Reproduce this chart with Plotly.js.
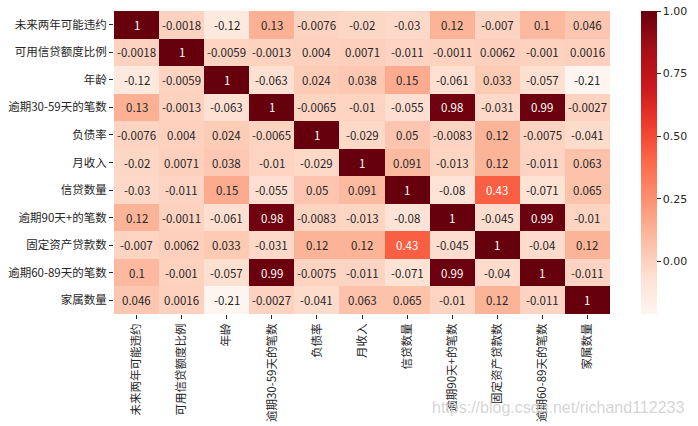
<!DOCTYPE html>
<html>
<head>
<meta charset="utf-8">
<script src="https://cdn.plot.ly/plotly-3.0.1.min.js"></script>
<style>html,body{margin:0;padding:0;background:#fff;}#chart{width:698px;height:426px;}</style>
</head>
<body>
<div id="chart"></div>
<script>
const labels = ["未来两年可能违约","可用信贷额度比例","年龄","逾期30-59天的笔数","负债率","月收入","信贷数量","逾期90天+的笔数","固定资产贷款数","逾期60-89天的笔数","家属数量"];
const row0 = [1, -0.0018, -0.12, 0.13, -0.0076, -0.02, -0.03, 0.12, -0.007, 0.1, 0.046];
const row1 = [-0.0018, 1, -0.0059, -0.0013, 0.004, 0.0071, -0.011, -0.0011, 0.0062, -0.001, 0.0016];
const row2 = [-0.12, -0.0059, 1, -0.063, 0.024, 0.038, 0.15, -0.061, 0.033, -0.057, -0.21];
const row3 = [0.13, -0.0013, -0.063, 1, -0.0065, -0.01, -0.055, 0.98, -0.031, 0.99, -0.0027];
const row4 = [-0.0076, 0.004, 0.024, -0.0065, 1, -0.029, 0.05, -0.0083, 0.12, -0.0075, -0.041];
const row5 = [-0.02, 0.0071, 0.038, -0.01, -0.029, 1, 0.091, -0.013, 0.12, -0.011, 0.063];
const row6 = [-0.03, -0.011, 0.15, -0.055, 0.05, 0.091, 1, -0.08, 0.43, -0.071, 0.065];
const row7 = [0.12, -0.0011, -0.061, 0.98, -0.0083, -0.013, -0.08, 1, -0.045, 0.99, -0.01];
const row8 = [-0.007, 0.0062, 0.033, -0.031, 0.12, 0.12, 0.43, -0.045, 1, -0.04, 0.12];
const row9 = [0.1, -0.001, -0.057, 0.99, -0.0075, -0.011, -0.071, 0.99, -0.04, 1, -0.011];
const row10 = [0.046, 0.0016, -0.21, -0.0027, -0.041, 0.063, 0.065, -0.01, 0.12, -0.011, 1];
const colorTicks = [0, 0.25, 0.5, 0.75, 1];

const z = [row0,row1,row2,row3,row4,row5,row6,row7,row8,row9,row10];
const reds = ["#fff5f0","#fee0d2","#fcbba1","#fc9272","#fb6a4a","#ef3b2c","#cb181d","#a50f15","#67000d"];
const colorscale = reds.map((c,i)=>[i/(reds.length-1), c]);

const annotations = [];
z.forEach((row, i) => row.forEach((v, j) => {
  annotations.push({
    x: labels[j], y: labels[i], xref: 'x', yref: 'y', text: String(v), showarrow: false,
    font: {family: 'Noto Sans CJK SC, DejaVu Sans, sans-serif', size: 11.5, color: v > 0.35 ? '#ffffff' : '#262626'}
  });
}));
annotations.push({
  xref: 'paper', yref: 'paper', x: 1.153, y: -0.307, xanchor: 'right', yanchor: 'middle',
  text: 'https://blog.csdn.net/richand112233', showarrow: false,
  font: {family: 'Liberation Sans, Arial, sans-serif', size: 16, color: 'rgba(205,205,205,0.85)'}
});

const trace = {
  type: 'heatmap', x: labels, y: labels, z: z,
  colorscale: colorscale, zmin: -0.21, zmax: 1,
  xgap: 0, ygap: 0, hoverinfo: 'skip',
  colorbar: {
    x: 1.062, xanchor: 'left', xref: 'paper', xpad: 0, ypad: 0,
    y: 0.5, yanchor: 'middle', len: 1, lenmode: 'fraction',
    thickness: 16, outlinewidth: 0,
    tickvals: colorTicks, tickformat: '.2f',
    ticks: 'outside', ticklen: 4, tickcolor: '#262626',
    tickfont: {family: 'DejaVu Sans, sans-serif', size: 11, color: '#262626'}
  }
};

const layout = {
  width: 698, height: 426,
  margin: {l: 114, r: 86, t: 11, b: 112},
  paper_bgcolor: '#fff', plot_bgcolor: '#fff',
  font: {family: 'Noto Sans CJK SC, sans-serif', size: 11, color: '#262626'},
  xaxis: {
    type: 'category', tickangle: -90, ticks: 'outside', ticklen: 4, tickcolor: '#262626',
    showgrid: false, zeroline: false, showline: false,
    tickfont: {family: 'Noto Sans CJK SC, sans-serif', size: 11.5, color: '#262626'}
  },
  yaxis: {
    type: 'category', autorange: 'reversed', ticks: 'outside', ticklen: 4, tickcolor: '#262626',
    showgrid: false, zeroline: false, showline: false,
    tickfont: {family: 'Noto Sans CJK SC, sans-serif', size: 11.5, color: '#262626'}
  },
  annotations: annotations
};

Plotly.newPlot('chart', [trace], layout, {displayModeBar: false, staticPlot: true});
</script>
</body>
</html>
